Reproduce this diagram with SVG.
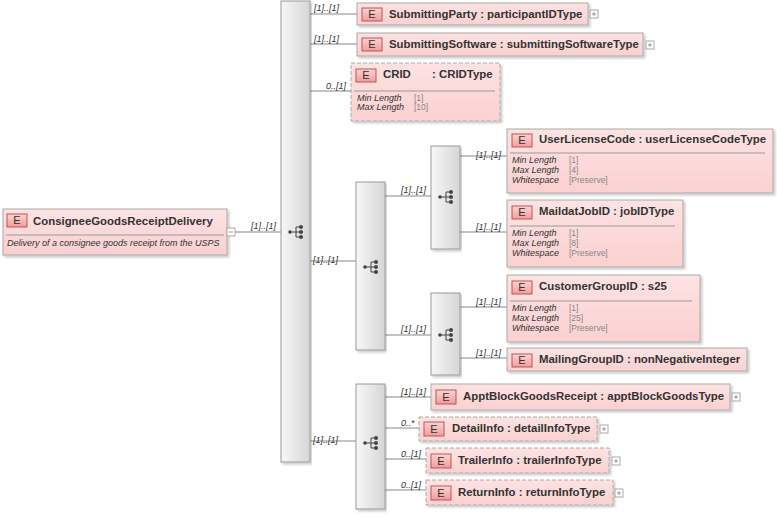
<svg xmlns="http://www.w3.org/2000/svg" width="777" height="515" viewBox="0 0 777 515">
<defs>
<linearGradient id="gb" x1="0" y1="0" x2="0" y2="1"><stop offset="0" stop-color="#fde3e3"/><stop offset="1" stop-color="#fbd0d0"/></linearGradient>
<linearGradient id="gs" x1="0" y1="0" x2="1" y2="0"><stop offset="0" stop-color="#f7f7f7"/><stop offset="1" stop-color="#d6d6d6"/></linearGradient>
<linearGradient id="ge" x1="0" y1="0" x2="0" y2="1"><stop offset="0" stop-color="#fbd4d4"/><stop offset="1" stop-color="#f29c9c"/></linearGradient>
<filter id="sh" x="-5%" y="-5%" width="110%" height="120%"><feDropShadow dx="2" dy="2" stdDeviation="1" flood-color="#000" flood-opacity="0.2"/></filter>
<g id="seqicon"><circle cx="-6" cy="0" r="1.8" fill="#444"/><path d="M-6 0H0M0 -5V5M0 -5H5M0 0H5M0 5H5" stroke="#444" fill="none"/><circle cx="5" cy="-5" r="2" fill="#444"/><circle cx="5" cy="0" r="2" fill="#444"/><circle cx="5" cy="5" r="2" fill="#444"/></g>
<g id="plus"><rect x="0" y="0" width="8" height="8" fill="#fff" stroke="#aaa"/><path d="M2 4H6M4 2V6" stroke="#999"/></g>
</defs>
<style>
.b{fill:url(#gb);stroke:#aaa;filter:url(#sh)}
.d{fill:url(#gb);stroke:#aaa;stroke-dasharray:4 2;filter:url(#sh)}
.s{fill:url(#gs);stroke:#999;filter:url(#sh)}
.e{fill:url(#ge);stroke:#b55}
.et{font:11px "Liberation Sans",sans-serif;fill:#333;text-anchor:middle}
.t{font:bold 11.4px "Liberation Sans",sans-serif;fill:#333}
.m{font:italic 9px "Liberation Sans",sans-serif;fill:#333}
.v{font:8.5px "Liberation Sans",sans-serif;fill:#888}
.sep{stroke:#999}
.c{stroke:#888;fill:none}
</style>
<g id="connectors">
<path class="c" d="M235 232H281M310 14H357M310 44H357M310 91H351M310 261H356M385 196H431M385 335H431M460 156H507M460 232H507M460 307H507M460 358H507M310 441H356M385 397H431M385 428H419M385 459H426M385 490H426"/>
<g class="m">
<text x="251" y="229">[1]..[1]</text><text x="314" y="11">[1]..[1]</text><text x="314" y="42">[1]..[1]</text><text x="326" y="89">0..[1]</text>
<text x="313" y="263">[1]..[1]</text><text x="401" y="193">[1]..[1]</text><text x="401" y="332">[1]..[1]</text>
<text x="476" y="158">[1]..[1]</text><text x="476" y="230">[1]..[1]</text><text x="476" y="305">[1]..[1]</text><text x="476" y="356">[1]..[1]</text>
<text x="313" y="443">[1]..[1]</text><text x="401" y="395">[1]..[1]</text><text x="401" y="426">0..*</text><text x="401" y="457">0..[1]</text><text x="401" y="488">0..[1]</text>
</g>
</g>
<g id="root"><rect class="b" x="3" y="209" width="224" height="46"/><rect class="e" x="7" y="214" width="20" height="13"/><text class="et" x="17" y="224">E</text><text class="t" x="33" y="225">ConsigneeGoodsReceiptDelivery</text><line class="sep" x1="6" y1="235" x2="224" y2="235"/><text class="m" x="7" y="246">Delivery of a consignee goods receipt from the USPS</text><rect x="227" y="228" width="8" height="8" fill="#fff" stroke="#aaa"/><path d="M229 232H233" stroke="#999"/></g>
<g id="seq1"><rect class="s" x="281" y="1" width="29" height="461"/><use href="#seqicon" x="296" y="232"/></g>
<g id="SubmittingParty"><rect class="b" x="357" y="3" width="231" height="22"/><rect class="e" x="362" y="8" width="20" height="13"/><text class="et" x="372" y="18">E</text><text class="t" x="389" y="18">SubmittingParty : participantIDType</text><use href="#plus" x="590" y="10"/></g>
<g id="SubmittingSoftware"><rect class="b" x="357" y="33" width="286" height="23"/><rect class="e" x="362" y="38" width="20" height="13"/><text class="et" x="372" y="48">E</text><text class="t" x="389" y="48">SubmittingSoftware : submittingSoftwareType</text><use href="#plus" x="646" y="41"/></g>
<g id="CRID"><rect class="d" x="351" y="63" width="149" height="58"/><rect class="e" x="356" y="69" width="20" height="13"/><text class="et" x="366" y="79">E</text><text class="t" x="383" y="78">CRID</text><text class="t" x="432" y="78">: CRIDType</text><line class="sep" x1="354" y1="91" x2="495" y2="91"/><text class="m" x="357" y="101">Min Length</text><text class="v" x="414" y="101">[1]</text><text class="m" x="357" y="110">Max Length</text><text class="v" x="414" y="110">[10]</text></g>
<g id="seq2"><rect class="s" x="356" y="182" width="29" height="168"/><use href="#seqicon" x="371" y="267"/></g>
<g id="seq3"><rect class="s" x="431" y="146" width="29" height="103"/><use href="#seqicon" x="446" y="197"/></g>
<g id="UserLicenseCode"><rect class="b" x="507" y="129" width="266" height="64"/><rect class="e" x="512" y="134" width="20" height="13"/><text class="et" x="522" y="144">E</text><text class="t" x="539" y="143">UserLicenseCode : userLicenseCodeType</text><line class="sep" x1="510" y1="153" x2="765" y2="153"/><text class="m" x="512" y="163">Min Length</text><text class="v" x="569" y="163">[1]</text><text class="m" x="512" y="173">Max Length</text><text class="v" x="569" y="173">[4]</text><text class="m" x="512" y="183">Whitespace</text><text class="v" x="569" y="183">[Preserve]</text></g>
<g id="MaildatJobID"><rect class="b" x="507" y="200" width="176" height="67"/><rect class="e" x="512" y="206" width="20" height="13"/><text class="et" x="522" y="216">E</text><text class="t" x="539" y="215">MaildatJobID : jobIDType</text><line class="sep" x1="510" y1="226" x2="675" y2="226"/><text class="m" x="512" y="236">Min Length</text><text class="v" x="569" y="236">[1]</text><text class="m" x="512" y="246">Max Length</text><text class="v" x="569" y="246">[8]</text><text class="m" x="512" y="256">Whitespace</text><text class="v" x="569" y="256">[Preserve]</text></g>
<g id="seq4"><rect class="s" x="431" y="293" width="29" height="82"/><use href="#seqicon" x="446" y="335"/></g>
<g id="CustomerGroupID"><rect class="b" x="507" y="275" width="193" height="67"/><rect class="e" x="512" y="281" width="20" height="13"/><text class="et" x="522" y="291">E</text><text class="t" x="539" y="290">CustomerGroupID : s25</text><line class="sep" x1="510" y1="301" x2="692" y2="301"/><text class="m" x="512" y="311">Min Length</text><text class="v" x="569" y="311">[1]</text><text class="m" x="512" y="321">Max Length</text><text class="v" x="569" y="321">[25]</text><text class="m" x="512" y="331">Whitespace</text><text class="v" x="569" y="331">[Preserve]</text></g>
<g id="MailingGroupID"><rect class="b" x="507" y="348" width="240" height="23"/><rect class="e" x="512" y="354" width="20" height="13"/><text class="et" x="522" y="364">E</text><text class="t" x="539" y="363">MailingGroupID : nonNegativeInteger</text></g>
<g id="seq5"><rect class="s" x="356" y="384" width="29" height="125"/><use href="#seqicon" x="371" y="443"/></g>
<g id="ApptBlockGoodsReceipt"><rect class="b" x="431" y="384" width="299" height="26"/><rect class="e" x="436" y="390" width="20" height="14"/><text class="et" x="446" y="401">E</text><text class="t" x="463" y="400">ApptBlockGoodsReceipt : apptBlockGoodsType</text><use href="#plus" x="732" y="393"/></g>
<g id="DetailInfo"><rect class="d" x="419" y="417" width="178" height="24"/><rect class="e" x="424" y="422" width="20" height="14"/><text class="et" x="434" y="433">E</text><text class="t" x="452" y="432">DetailInfo : detailInfoType</text><use href="#plus" x="600" y="425"/></g>
<g id="TrailerInfo"><rect class="d" x="426" y="448" width="183" height="25"/><rect class="e" x="431" y="454" width="20" height="14"/><text class="et" x="441" y="465">E</text><text class="t" x="458" y="464">TrailerInfo : trailerInfoType</text><use href="#plus" x="612" y="457"/></g>
<g id="ReturnInfo"><rect class="d" x="426" y="480" width="187" height="25"/><rect class="e" x="431" y="486" width="20" height="14"/><text class="et" x="441" y="497">E</text><text class="t" x="458" y="496">ReturnInfo : returnInfoType</text><use href="#plus" x="615" y="489"/></g>
</svg>
